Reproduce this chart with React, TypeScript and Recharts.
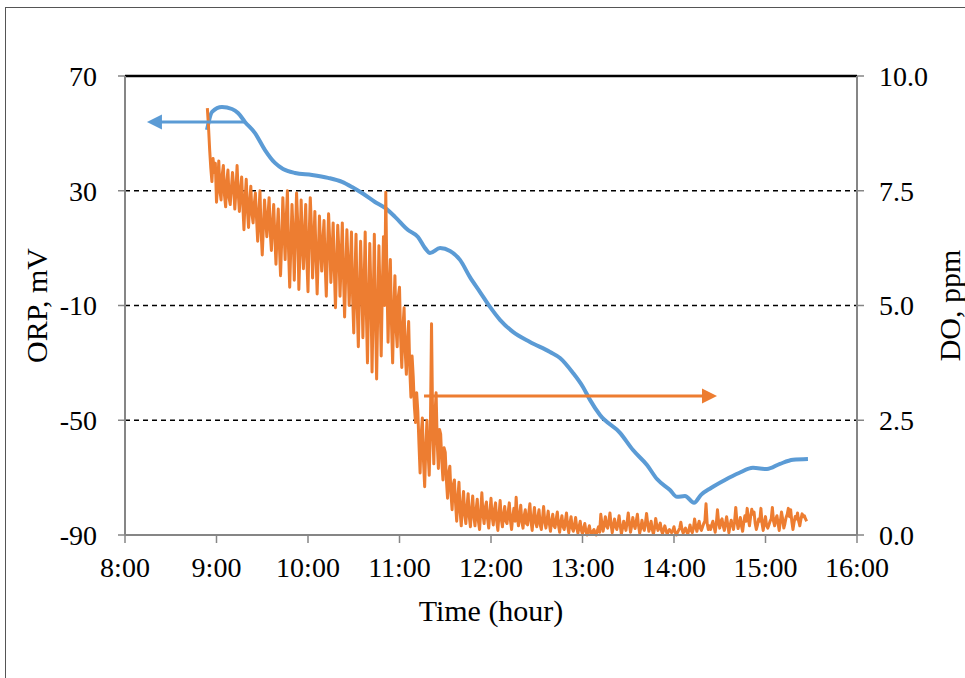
import React from "react";
import { LineChart, Line, XAxis, YAxis, ReferenceLine } from "recharts";

const FONT = "'Liberation Serif', 'Times New Roman', serif";
const BLUE = "#5B9BD5";
const ORANGE = "#ED7D31";

// time axis (hours)
const X_TICKS = [8, 9, 10, 11, 12, 13, 14, 15, 16];
const ORP_TICKS = [-90, -50, -10, 30, 70];
const DO_TICKS = [0, 2.5, 5, 7.5, 10];
const GRID_ORP = [30, -10, -50];

// ORP, mV (blue, left axis)
const ORP_TIME = [
  8.896, 8.951, 9.06, 9.169, 9.235, 9.311, 9.421, 9.53, 9.639, 9.727, 9.858,
  10.044, 10.219, 10.372, 10.481, 10.59, 10.732, 10.842, 10.951, 11.093,
  11.202, 11.279, 11.333, 11.443, 11.552, 11.661, 11.77, 11.88, 11.989,
  12.098, 12.24, 12.426, 12.645, 12.754, 12.896, 13.005, 13.082, 13.191,
  13.41, 13.552, 13.705, 13.814, 13.956, 14.033, 14.12, 14.219, 14.295,
  14.404, 14.557, 14.71, 14.863, 15.016, 15.158, 15.301, 15.464,
];
const ORP_VALUE = [
  51.2, 57.5, 59.2, 58.5, 57.1, 54.0, 50.1, 44.2, 39.7, 37.6, 36.2, 35.5, 34.5,
  33.1, 31.3, 29.2, 26.1, 24.0, 20.9, 16.3, 13.9, 10.0, 8.3, 10.0, 9.0, 5.9,
  -0.1, -5.3, -10.5, -15.0, -19.2, -22.7, -26.2, -28.3, -33.5, -38.4, -42.9,
  -48.2, -54.4, -60.4, -65.6, -70.5, -74.3, -76.7, -76.4, -78.8, -76.0, -73.6,
  -70.8, -68.4, -66.6, -67.0, -65.2, -63.8, -63.5,
];

// DO, ppm (orange, right axis), logged every 45 s from 8.9 h
const DO_START = 8.9;
const DO_STEP = 0.0125;
const DO_VALUE = [
  9.3, 8.9, 8.4, 8.0, 7.7, 8.2, 7.9, 8.1,
  7.25, 7.6, 8.15, 7.5, 7.3, 7.85, 8.05, 7.4, 7.15, 7.7,
  7.95, 7.35, 7.2, 7.55, 7.9, 7.6, 7.1, 7.5, 8.05, 7.45,
  7.05, 7.5, 7.8, 7.2, 6.65, 7.3, 7.75, 7.1, 6.7, 7.25, 7.6, 7.0,
  6.8, 7.2, 7.45, 6.9, 6.4, 7.0, 7.5, 6.6, 6.1, 6.7, 7.3, 6.9, 6.5, 6.95, 7.35, 6.6,
  6.2, 6.8, 7.2, 6.5, 5.9, 6.6, 7.1, 6.3, 5.65, 6.4,
  7.35, 6.7, 6.0, 6.9, 7.5, 6.2, 5.4, 6.3, 7.2, 6.6,
  5.55, 6.5, 7.45, 6.8,
  5.35, 6.2, 7.3, 6.4, 5.8, 6.6, 7.2, 6.0, 5.3, 6.5, 7.35, 6.7, 5.6, 6.3, 7.05, 6.1,
  5.25, 6.1, 6.95, 6.3, 5.75, 6.4, 6.85, 5.9, 5.2, 6.2,
  7.0, 6.4, 5.5, 6.1, 6.8, 5.8, 4.95, 5.9, 6.75, 6.2,
  5.2, 6.0, 6.8, 5.7,
  4.75, 5.7, 6.65, 5.9, 5.0, 5.8, 6.6, 5.2, 4.4, 5.6,
  6.55, 5.0, 4.1, 5.3, 6.4, 5.5, 4.3, 5.4, 6.6, 4.9,
  3.75, 5.1, 6.35, 5.3,
  3.55, 5.0, 6.55, 4.8, 3.4, 4.9, 6.3, 5.2, 3.9, 5.4, 6.5, 5.0, 7.47, 5.6, 4.2, 5.3,
  6.0, 4.6, 3.75, 4.9, 5.65, 4.5, 4.1, 5.2,
  5.4, 4.3, 3.65, 4.5, 4.95, 4.0, 3.5, 4.2,
  4.65, 3.6, 3.0, 3.9, 3.45, 2.8, 2.45, 3.1,
  2.7, 2.0, 1.35, 2.2, 2.55, 1.6, 1.05, 1.9, 2.5, 1.8, 1.3, 2.3,
  4.6, 2.4, 1.55, 2.6,
  3.1, 2.0, 1.45, 2.3, 2.2, 1.6, 1.2, 1.9,
  1.8, 1.2, 0.8, 1.35, 1.5, 0.9, 0.55, 1.1,
  1.2, 0.7, 0.3, 0.8, 1.15, 0.5, 0.2, 0.65, 0.95, 0.45, 0.25, 0.6, 0.9, 0.4, 0.18, 0.55,
  0.85, 0.4, 0.2, 0.55, 0.78, 0.3, 0.12, 0.5, 0.92, 0.45,
  0.25, 0.6, 0.72, 0.35, 0.15, 0.48, 0.8, 0.4, 0.22, 0.55,
  0.7, 0.3, 0.1, 0.45,
  0.75, 0.35, 0.18, 0.45, 0.62, 0.3, 0.25, 0.5, 0.7, 0.32,
  0.12, 0.4, 0.58, 0.3, 0.82, 0.4, 0.2, 0.45, 0.65, 0.28,
  0.15, 0.42, 0.55, 0.25, 0.22, 0.48, 0.68, 0.3, 0.1, 0.38,
  0.6, 0.28, 0.18, 0.4, 0.55, 0.22, 0.12, 0.35, 0.62, 0.3,
  0.15, 0.32, 0.52, 0.25, 0.08, 0.3, 0.45, 0.2, 0.16, 0.35, 0.5, 0.22,
  0.06, 0.28, 0.42, 0.18, 0.12, 0.3, 0.48, 0.2, 0.05, 0.25, 0.4, 0.15,
  0.08, 0.22, 0.38, 0.15, 0.04, 0.18, 0.3, 0.1, 0.02, 0.15, 0.25, 0.08, 0.0, 0.1, 0.2, 0.05,
  0.02, 0.08, 0.12, 0.03, 0.0, 0.1, 0.18, 0.06,
  0.45, 0.25, 0.08, 0.22, 0.4, 0.2, 0.15, 0.3, 0.48, 0.22,
  0.05, 0.2, 0.35, 0.18, 0.12, 0.25, 0.42, 0.2, 0.02, 0.15,
  0.3, 0.2, 0.1, 0.28, 0.48, 0.25, 0.06, 0.2, 0.38, 0.22,
  0.14, 0.3, 0.45, 0.2, 0.04, 0.15, 0.32, 0.18, 0.1, 0.25,
  0.47, 0.25, 0.08, 0.18, 0.3, 0.12, 0.02, 0.15, 0.36, 0.2, 0.1, 0.18, 0.26, 0.1, 0.03, 0.12,
  0.2, 0.1, 0.02, 0.08, 0.12, 0.08, 0.05, 0.1, 0.18, 0.06,
  0.0, 0.05, 0.1, 0.15, 0.28, 0.12, 0.04, 0.1, 0.15, 0.08,
  0.02, 0.1, 0.22, 0.1,
  0.05, 0.15, 0.35, 0.18, 0.08, 0.2, 0.3, 0.15, 0.1, 0.18, 0.25, 0.3, 0.68, 0.25, 0.12, 0.2,
  0.12, 0.22, 0.3, 0.18, 0.06, 0.25, 0.55, 0.28, 0.15, 0.3,
  0.35, 0.2, 0.1, 0.25, 0.4, 0.22, 0.05, 0.2, 0.32, 0.25,
  0.12, 0.3, 0.6, 0.3, 0.14, 0.25, 0.38, 0.2, 0.08, 0.28,
  0.42, 0.3, 0.58, 0.35, 0.2, 0.4, 0.56, 0.45, 0.5, 0.25,
  0.12, 0.22, 0.35, 0.3, 0.58, 0.25, 0.1, 0.28, 0.4, 0.2,
  0.15, 0.22, 0.3, 0.35, 0.6, 0.3, 0.2, 0.35, 0.42, 0.25,
  0.1, 0.3, 0.5, 0.35, 0.15, 0.25, 0.38, 0.45, 0.58, 0.4,
  0.55, 0.3, 0.12, 0.28, 0.4, 0.35, 0.48, 0.3, 0.2, 0.35,
  0.46, 0.4, 0.42, 0.35, 0.3,
];

// arrows pointing at the axis each curve belongs to
const ORP_ARROW = { from: 9.311, to: 8.24, level: 54 };
const DO_ARROW = { from: 11.268, to: 14.47, level: 3.03 };

const orpData = ORP_TIME.map((t, i) => ({ t, orp: ORP_VALUE[i] }));
const doData = DO_VALUE.map((v, i) => ({
  t: +(DO_START + i * DO_STEP).toFixed(4),
  dox: v,
}));

const arrowShape = (color: string) => (p: any) => {
  const { x1, y1, x2, y2 } = p;
  const dir = Math.sign(x2 - x1) || 1;
  const head = 15;
  const half = 7.5;
  return (
    <g>
      <line x1={x1} y1={y1} x2={x2 - dir * head * 0.7} y2={y2} stroke={color} strokeWidth={3} />
      <polygon
        points={`${x2},${y2} ${x2 - dir * head},${y2 - half} ${x2 - dir * head},${y2 + half}`}
        fill={color}
      />
    </g>
  );
};

const tickStyle = { fill: "#000", fontSize: 28, fontFamily: FONT };
const titleStyle = { fill: "#000", fontSize: 30, fontFamily: FONT };
const axisLine = { stroke: "#868686", strokeWidth: 2 };
const tickLine = { stroke: "#868686", strokeWidth: 1.5 };

export default function App() {
  return (
    <div style={{ position: "absolute", left: 0, top: 0, width: 965, height: 678, background: "#fff" }}>
      <div
        style={{
          position: "absolute",
          left: 5,
          top: 7,
          width: 980,
          height: 700,
          borderTop: "1.5px solid #555",
          borderLeft: "1.5px solid #555",
        }}
      />
      <div style={{ position: "absolute", left: 0, top: 0 }}>
        <LineChart width={965} height={678} margin={{ top: 76, right: 0, bottom: 43, left: 0 }}>
          <XAxis
            dataKey="t"
            type="number"
            domain={[8, 16]}
            ticks={X_TICKS}
            tickFormatter={(v) => `${v}:00`}
            allowDuplicatedCategory={false}
            height={100}
            tick={tickStyle}
            tickSize={8}
            tickMargin={14}
            axisLine={axisLine}
            tickLine={tickLine}
            label={{ value: "Time (hour)", position: "insideBottom", offset: 14, style: titleStyle }}
          />
          <YAxis
            yAxisId="left"
            type="number"
            domain={[-90, 70]}
            ticks={ORP_TICKS}
            width={125}
            tick={tickStyle}
            tickSize={7}
            tickMargin={21}
            axisLine={axisLine}
            tickLine={tickLine}
            label={{
              value: "ORP, mV",
              angle: -90,
              position: "insideLeft",
              offset: 36,
              style: { ...titleStyle, textAnchor: "middle" },
            }}
          />
          <YAxis
            yAxisId="right"
            orientation="right"
            type="number"
            domain={[0, 10]}
            ticks={DO_TICKS}
            tickFormatter={(v) => Number(v).toFixed(1)}
            width={108}
            tick={tickStyle}
            tickSize={7}
            tickMargin={15}
            axisLine={axisLine}
            tickLine={tickLine}
            label={{
              value: "DO, ppm",
              angle: -90,
              position: "insideRight",
              offset: 16,
              style: { ...titleStyle, textAnchor: "middle" },
            }}
          />
          {GRID_ORP.map((g) => (
            <ReferenceLine key={g} yAxisId="left" y={g} stroke="#000" strokeWidth={1.4} strokeDasharray="5 4" />
          ))}
          <ReferenceLine yAxisId="left" y={70} stroke="#000" strokeWidth={2.5} />
          <Line
            yAxisId="left"
            data={orpData}
            dataKey="orp"
            type="monotone"
            stroke={BLUE}
            strokeWidth={4}
            dot={false}
            isAnimationActive={false}
          />
          <Line
            yAxisId="right"
            data={doData}
            dataKey="dox"
            type="linear"
            stroke={ORANGE}
            strokeWidth={3}
            strokeLinejoin="round"
            dot={false}
            isAnimationActive={false}
          />
          <ReferenceLine
            yAxisId="left"
            segment={[
              { x: ORP_ARROW.from, y: ORP_ARROW.level },
              { x: ORP_ARROW.to, y: ORP_ARROW.level },
            ]}
            shape={arrowShape(BLUE)}
          />
          <ReferenceLine
            yAxisId="right"
            segment={[
              { x: DO_ARROW.from, y: DO_ARROW.level },
              { x: DO_ARROW.to, y: DO_ARROW.level },
            ]}
            shape={arrowShape(ORANGE)}
          />
        </LineChart>
      </div>
    </div>
  );
}
